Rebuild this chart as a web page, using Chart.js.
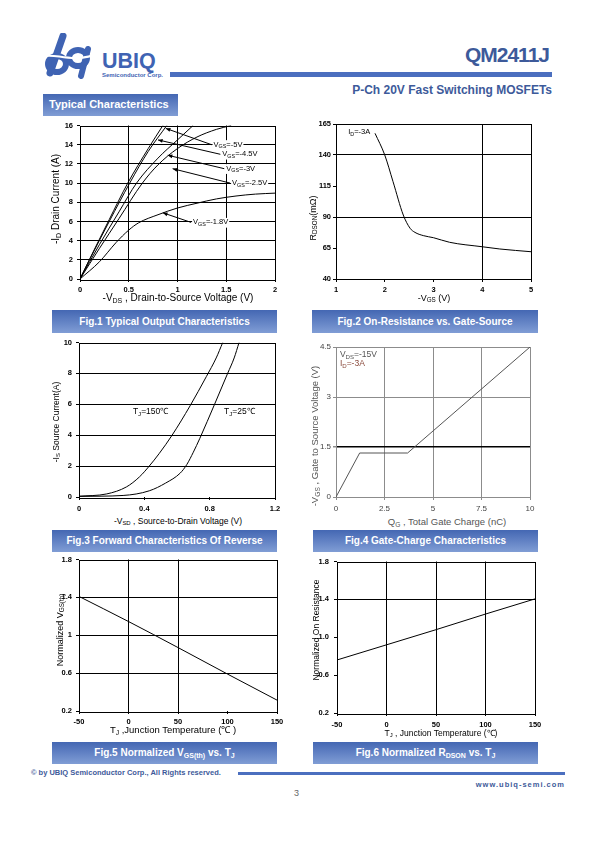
<!DOCTYPE html>
<html>
<head>
<meta charset="utf-8">
<script src="https://cdn.jsdelivr.net/npm/chart.js"></script>
<style>
body { margin: 0; width: 595px; height: 842px; position: relative; background: #fff; overflow: hidden;
  font-family: "Liberation Sans", Arial, sans-serif; }
canvas { position: absolute; }
.t { position: absolute; white-space: nowrap; line-height: 1; }
.xt { position: absolute; white-space: nowrap; line-height: 1; transform: translate(-50%, -50%); }
.yt { position: absolute; white-space: nowrap; line-height: 1; transform: translate(-50%, -50%) rotate(-90deg); }
.cap { position: absolute; height: 22px; line-height: 22px; color: #fff; font-weight: bold; font-size: 10px;
  text-align: center; background: linear-gradient(#4467b3, #809dd5); white-space: nowrap; }
sub { font-size: 70%; vertical-align: -0.25em; line-height: 0; }
.blue { color: #3d5a9a; }
</style>
</head>
<body>

<!-- header -->
<svg class="t" style="left:40px;top:33px" width="62" height="46" viewBox="0 0 62 46">
  <g fill="none" stroke="#3f63b3" stroke-linecap="round">
    <line x1="23" y1="3" x2="10" y2="40" stroke-width="7"/>
    <ellipse cx="17" cy="31" rx="9" ry="8" stroke-width="6"/>
    <ellipse cx="38" cy="25" rx="9" ry="8" stroke-width="6"/>
    <line x1="48" y1="16" x2="41" y2="43" stroke-width="6"/>
  </g>
  <path d="M1 24 C 14 18, 30 32, 60 20" fill="none" stroke="#fff" stroke-width="2"/>
</svg>
<div class="t" style="left:102px;top:51px;font-size:21.5px;font-weight:bold;color:#3f63b3">UBIQ</div>
<div class="t" style="left:102px;top:72px;font-size:6px;font-weight:bold;color:#3f63b3">Semiconductor Corp.</div>
<div class="t" style="left:170px;top:72px;width:382px;height:5px;background:#4b6fbf"></div>
<div class="t blue" style="right:46px;top:44px;font-size:21px;font-weight:bold;letter-spacing:-1px">QM2411J</div>
<div class="t blue" style="right:43px;top:84px;font-size:12px;font-weight:bold">P-Ch 20V Fast Switching MOSFETs</div>
<div class="t" style="left:43px;top:94px;width:135px;height:22px;background:linear-gradient(#4467b3,#809dd5)"></div>
<div class="t" style="left:49px;top:99px;font-size:11px;font-weight:bold;color:#fff">Typical Characteristics</div>

<!-- charts -->
<canvas id="c1"></canvas>
<canvas id="c2"></canvas>
<canvas id="c3"></canvas>
<canvas id="c4"></canvas>
<canvas id="c5"></canvas>
<canvas id="c6"></canvas>

<!-- axis titles -->
<div class="xt" style="left:178px;top:298px;font-size:10px">-V<sub>DS</sub> , Drain-to-Source Voltage (V)</div>
<div class="yt" style="left:56px;top:199px;font-size:10px">-I<sub>D</sub> Drain Current (A)</div>
<div class="xt" style="left:434px;top:298px;font-size:9px">-V<sub>GS</sub> (V)</div>
<div class="yt" style="left:313px;top:218px;font-size:9px">R<sub>DSON</sub>(mΩ)</div>
<div class="xt" style="left:178px;top:521px;font-size:8.5px">-V<sub>SD</sub> , Source-to-Drain Voltage (V)</div>
<div class="yt" style="left:56px;top:422px;font-size:8.5px">-I<sub>S</sub> Source Current(A)</div>
<div class="xt" style="left:447px;top:522px;font-size:9.5px;color:#555">Q<sub>G</sub> , Total Gate Charge (nC)</div>
<div class="yt" style="left:315px;top:436px;font-size:9.5px;color:#555">-V<sub>GS</sub> , Gate to Source Voltage (V)</div>
<div class="xt" style="left:173px;top:730px;font-size:9.5px">T<sub>J</sub> ,Junction Temperature (℃ )</div>
<div class="yt" style="left:60px;top:630px;font-size:9px">Normalized V<sub>GS(th)</sub></div>
<div class="xt" style="left:441px;top:733px;font-size:8.5px">T<sub>J</sub> , Junction Temperature (℃)</div>
<div class="yt" style="left:316px;top:630px;font-size:8.5px">Normalized On Resistance</div>

<!-- captions -->
<div class="cap" style="left:52px;top:310px;width:225px;height:23px;line-height:23px">Fig.1 Typical Output Characteristics</div>
<div class="cap" style="left:312px;top:310px;width:226px;height:23px;line-height:23px">Fig.2 On-Resistance vs. Gate-Source</div>
<div class="cap" style="left:52px;top:530px;width:225px">Fig.3 Forward Characteristics Of Reverse</div>
<div class="cap" style="left:313px;top:530px;width:225px">Fig.4 Gate-Charge Characteristics</div>
<div class="cap" style="left:52px;top:742px;width:225px">Fig.5 Normalized V<sub>GS(th)</sub> vs. T<sub>J</sub></div>
<div class="cap" style="left:313px;top:742px;width:225px">Fig.6 Normalized R<sub>DSON</sub> vs. T<sub>J</sub></div>

<!-- footer -->
<div class="t blue" style="left:31px;top:769px;font-size:7.5px;font-weight:bold">© by UBIQ Semiconductor Corp., All Rights reserved.</div>
<div class="t" style="left:238px;top:772px;width:327px;height:3px;background:#4b6fbf"></div>
<div class="t blue" style="right:30px;top:781px;font-size:7.5px;font-weight:bold;letter-spacing:1px">www.ubiq-semi.com</div>
<div class="t" style="left:294px;top:789px;font-size:9px;color:#666">3</div>

<script>
const FAM = '"Liberation Sans", Arial, sans-serif';

// Fig.1 output characteristics
const fig1XTicks = [0, 0.5, 1, 1.5, 2];
const fig1XLabels = ['0', '0.5', '1', '1.5', '2'];
const fig1YTicks = [0, 2, 4, 6, 8, 10, 12, 14, 16];
const fig1YLabels = ['0', '2', '4', '6', '8', '10', '12', '14', '16'];
const fig1Vds5 = [0, 0.1, 0.3, 0.49, 0.7, 0.85];
const fig1Id5 = [0, 2.1, 6.2, 10, 13.6, 16];
const fig1Vds45 = [0, 0.1, 0.3, 0.51, 0.7, 0.89];
const fig1Id45 = [0, 2.05, 6.0, 10, 13.3, 16];
const fig1Vds3 = [0, 0.2, 0.4, 0.58, 0.8, 1.0, 1.16];
const fig1Id3 = [0, 3.6, 7.0, 10, 12.6, 14.5, 16];
const fig1Vds25 = [0, 0.2, 0.4, 0.64, 0.8, 1.0, 1.2, 1.4, 1.55];
const fig1Id25 = [0, 3.2, 6.3, 10, 11.9, 13.6, 14.8, 15.6, 16];
const fig1Vds18 = [0, 0.2, 0.37, 0.5, 0.6, 0.8, 1.0, 1.2, 1.4, 1.6, 1.8, 2.0];
const fig1Id18 = [0, 1.8, 3.8, 5.1, 5.85, 6.7, 7.4, 7.9, 8.35, 8.65, 8.85, 8.95];
const fig1NoteText = ['=-5V', '=-4.5V', '=-3V', '=-2.5V', '=-1.8V'];
const fig1NoteAt = [[1.37, 14.0], [1.46, 13.0], [1.50, 11.5], [1.56, 10.0], [1.16, 5.9]];
const fig1NoteTip = [[0.88, 15.7], [0.80, 14.5], [0.90, 12.9], [0.95, 11.5], [0.85, 6.9]];

// Fig.2 on-resistance vs gate-source
const fig2XTicks = [1, 2, 3, 4, 5];
const fig2XLabels = ['1', '2', '3', '4', '5'];
const fig2YTicks = [40, 65, 90, 115, 140, 165];
const fig2YLabels = ['40', '65', '90', '115', '140', '165'];
const fig2Vgs = [1.8, 2.0, 2.17, 2.38, 2.52, 2.62, 2.79, 3.0, 3.33, 4.0, 4.36, 5.0];
const fig2Rds = [157.5, 140, 118.5, 91.6, 80.9, 77.6, 75, 73.3, 69.6, 66, 64.2, 62];

// Fig.3 body diode forward
const fig3XTicks = [0, 0.4, 0.8, 1.2];
const fig3XLabels = ['0', '0.4', '0.8', '1.2'];
const fig3YTicks = [0, 2, 4, 6, 8, 10];
const fig3YLabels = ['0', '2', '4', '6', '8', '10'];
const fig3Vsd150 = [0, 0.17, 0.29, 0.37, 0.43, 0.49, 0.57, 0.68, 0.78, 0.84, 0.88];
const fig3Is150 = [0.05, 0.2, 0.65, 1.3, 2.0, 2.8, 4.0, 5.9, 7.8, 9.0, 10];
const fig3Vsd25 = [0, 0.27, 0.43, 0.53, 0.62, 0.66, 0.70, 0.74, 0.83, 0.91, 0.95, 0.98];
const fig3Is25 = [0.04, 0.1, 0.4, 0.9, 1.55, 2.1, 2.9, 3.8, 6.0, 8.0, 9.0, 10];

// Fig.4 gate charge
const fig4XTicks = [0, 2.5, 5, 7.5, 10];
const fig4XLabels = ['0', '2.5', '5', '7.5', '10'];
const fig4YTicks = [0, 1.5, 3, 4.5];
const fig4YLabels = ['0', '1.5', '3', '4.5'];
const fig4Qg = [0, 1.22, 3.69, 10];
const fig4Vgs = [0, 1.32, 1.32, 4.5];

// Fig.5 / Fig.6 vs temperature
const tempTicks = [-50, 0, 50, 100, 150];
const tempLabels = ['-50', '0', '50', '100', '150'];
const normTicks = [0.2, 0.6, 1.0, 1.4, 1.8];
const fig5YLabels = ['0.2', '0.6', '1', '1.4', '1.8'];
const fig6YLabels = ['0.2', '0.6', '1.0', '1.4', '1.8'];
const fig5Temp = [-50, 0, 50, 100, 150];
const fig5Vth = [1.41, 1.145, 0.87, 0.59, 0.315];
const fig6Temp = [-50, 0, 50, 100, 150];
const fig6Rds = [0.76, 0.92, 1.08, 1.245, 1.405];

// draws text made of [text, isSub] parts, returns width
function drawParts(ctx, parts, x, y, size, paint) {
  let cx = x;
  ctx.textBaseline = 'middle';
  ctx.textAlign = 'left';
  parts.forEach(p => {
    const sub = p[1];
    ctx.font = (sub ? size * 0.72 : size) + 'px ' + FAM;
    if (paint) ctx.fillText(p[0], cx, sub ? y + size * 0.28 : y);
    cx += ctx.measureText(p[0]).width;
  });
  return cx - x;
}

const framePlugin = {
  id: 'frame',
  beforeDatasetsDraw(chart, args, opts) {
    const a = chart.chartArea, ctx = chart.ctx;
    ctx.save();
    ctx.strokeStyle = opts.color || '#000';
    ctx.lineWidth = 1;
    ctx.strokeRect(Math.round(a.left) + 0.5, Math.round(a.top) + 0.5,
      Math.round(a.right - a.left), Math.round(a.bottom - a.top));
    ctx.restore();
  }
};

const notesPlugin = {
  id: 'notes',
  afterDatasetsDraw(chart, args, opts) {
    const items = opts.items || [];
    const ctx = chart.ctx, xs = chart.scales.x, ys = chart.scales.y;
    const size = opts.size || 8;
    items.forEach(it => {
      const px = xs.getPixelForValue(it.at[0]), py = ys.getPixelForValue(it.at[1]);
      ctx.save();
      if (it.tip) {
        const tx = xs.getPixelForValue(it.tip[0]), ty = ys.getPixelForValue(it.tip[1]);
        ctx.strokeStyle = '#000';
        ctx.fillStyle = '#000';
        ctx.lineWidth = 1;
        ctx.beginPath();
        ctx.moveTo(px - 2, py);
        ctx.lineTo(tx, ty);
        ctx.stroke();
        const ang = Math.atan2(ty - py, tx - (px - 2));
        ctx.beginPath();
        ctx.moveTo(tx, ty);
        ctx.lineTo(tx - 5 * Math.cos(ang - 0.4), ty - 5 * Math.sin(ang - 0.4));
        ctx.lineTo(tx - 5 * Math.cos(ang + 0.4), ty - 5 * Math.sin(ang + 0.4));
        ctx.closePath();
        ctx.fill();
      }
      const w = drawParts(ctx, it.parts, px, py, size, false);
      if (opts.bg) {
        ctx.fillStyle = opts.bg;
        ctx.fillRect(px - 1, py - size * 0.6, w + 2, size * 1.3);
      }
      ctx.fillStyle = it.color || opts.color || '#000';
      drawParts(ctx, it.parts, px, py, size, true);
      ctx.restore();
    });
  }
};

function axis(ticks, labels, gridVals, o) {
  return {
    type: 'linear',
    min: ticks[0],
    max: ticks[ticks.length - 1],
    afterBuildTicks: s => { s.ticks = ticks.map(v => ({ value: v })); },
    afterFit: s => { if (o.dir === 'x') s.height = o.fit; else s.width = o.fit; },
    ticks: {
      callback: (v, i) => labels[i],
      font: { family: FAM, size: o.fontSize, weight: o.bold ? 'bold' : 'normal' },
      color: o.tickText,
      padding: o.pad,
      autoSkip: false,
      maxRotation: 0
    },
    grid: {
      color: c => (c.tick && gridVals.includes(c.tick.value)) ? o.gridColor(c.tick.value) : 'rgba(0,0,0,0)',
      lineWidth: c => (c.tick && o.gridWidth) ? o.gridWidth(c.tick.value) : 1,
      tickColor: o.tickColor,
      tickLength: 3,
      drawTicks: true
    },
    border: { display: false }
  };
}

// area = [left, top, right, bottom] of the plot in page pixels
function makeChart(id, area, cfg) {
  const yw = 30, xh = 18, pt = 8, pr = 14;
  const cv = document.getElementById(id);
  const W = area[2] - area[0] + yw + pr, H = area[3] - area[1] + pt + xh;
  cv.width = W; cv.height = H;
  cv.style.width = W + 'px'; cv.style.height = H + 'px';
  cv.style.left = (area[0] - yw) + 'px'; cv.style.top = (area[1] - pt) + 'px';
  const st = {
    fontSize: cfg.fontSize || 7.5, bold: cfg.bold !== false, tickText: cfg.tickText || '#000',
    tickColor: cfg.frame || '#000', gridColor: cfg.gridColor || (() => '#000'), gridWidth: cfg.gridWidth
  };
  return new Chart(cv, {
    type: 'scatter',
    data: {
      datasets: cfg.series.map(s => ({
        data: s.x.map((v, i) => ({ x: v, y: s.y[i] })),
        showLine: true,
        borderColor: cfg.line || '#000',
        borderWidth: 1,
        pointRadius: 0,
        cubicInterpolationMode: cfg.straight ? 'default' : 'monotone',
        tension: 0
      }))
    },
    options: {
      responsive: false,
      animation: false,
      events: [],
      layout: { padding: { left: 0, top: pt, right: pr, bottom: 0 } },
      plugins: {
        legend: { display: false },
        tooltip: { enabled: false },
        frame: { color: cfg.frame || '#000' },
        notes: cfg.notes || {}
      },
      scales: {
        x: axis(cfg.xTicks, cfg.xLabels, cfg.xGrid, Object.assign({ dir: 'x', fit: xh, pad: cfg.xPad }, st)),
        y: axis(cfg.yTicks, cfg.yLabels, cfg.yGrid, Object.assign({ dir: 'y', fit: yw, pad: cfg.yPad }, st))
      }
    },
    plugins: [framePlugin, notesPlugin]
  });
}

makeChart('c1', [80, 125, 275, 279], {
  xTicks: fig1XTicks, xLabels: fig1XLabels, yTicks: fig1YTicks, yLabels: fig1YLabels,
  xGrid: [0.5, 1, 1.5], yGrid: [2, 4, 6, 8, 10, 12, 14], xPad: 3, yPad: 4,
  series: [
    { x: fig1Vds5, y: fig1Id5 }, { x: fig1Vds45, y: fig1Id45 }, { x: fig1Vds3, y: fig1Id3 },
    { x: fig1Vds25, y: fig1Id25 }, { x: fig1Vds18, y: fig1Id18 }
  ],
  notes: {
    size: 7.5, bg: '#fff',
    items: fig1NoteText.map((t, i) => ({ parts: [['V'], ['GS', 1], [t]], at: fig1NoteAt[i], tip: fig1NoteTip[i] }))
  }
});

makeChart('c2', [336, 124, 531, 279], {
  xTicks: fig2XTicks, xLabels: fig2XLabels, yTicks: fig2YTicks, yLabels: fig2YLabels,
  xGrid: [4], yGrid: [90, 140], xPad: 3, yPad: 2,
  series: [{ x: fig2Vgs, y: fig2Rds }],
  notes: { size: 7.5, items: [{ parts: [['I'], ['D', 1], ['=-3A']], at: [1.25, 158.5] }] }
});

makeChart('c3', [79, 342, 275, 497], {
  xTicks: fig3XTicks, xLabels: fig3XLabels, yTicks: fig3YTicks, yLabels: fig3YLabels,
  xGrid: [], yGrid: [2, 4, 6, 8], xPad: 4, yPad: 4,
  series: [{ x: fig3Vsd150, y: fig3Is150 }, { x: fig3Vsd25, y: fig3Is25 }],
  notes: {
    size: 8.5,
    items: [
      { parts: [['T'], ['J', 1], ['=150℃']], at: [0.33, 5.5] },
      { parts: [['T'], ['J', 1], ['=25℃']], at: [0.888, 5.5] }
    ]
  }
});

makeChart('c4', [336, 347, 530, 497], {
  xTicks: fig4XTicks, xLabels: fig4XLabels, yTicks: fig4YTicks, yLabels: fig4YLabels,
  xGrid: [2.5, 5, 7.5], yGrid: [1.5, 3], xPad: 4, yPad: 2,
  fontSize: 8, bold: false, tickText: '#444', frame: '#8c8c8c', line: '#555', straight: true,
  gridColor: v => v === 1.5 ? '#000' : '#8c8c8c',
  gridWidth: v => v === 1.5 ? 1.5 : 1,
  series: [{ x: fig4Qg, y: fig4Vgs }],
  notes: {
    size: 8.5,
    items: [
      { parts: [['V'], ['DS', 1], ['=-15V']], at: [0.2, 4.26], color: '#555' },
      { parts: [['I'], ['D', 1], ['=-3A']], at: [0.2, 4.0], color: '#8a4a3c' }
    ]
  }
});

makeChart('c5', [79, 559, 277, 711], {
  xTicks: tempTicks, xLabels: tempLabels, yTicks: normTicks, yLabels: fig5YLabels,
  xGrid: [0, 50], yGrid: [0.6, 1.0, 1.4], xPad: 3, yPad: 4,
  series: [{ x: fig5Temp, y: fig5Vth }]
});

makeChart('c6', [337, 560, 535, 713], {
  xTicks: tempTicks, xLabels: tempLabels, yTicks: normTicks, yLabels: fig6YLabels,
  xGrid: [0, 50, 100], yGrid: [1.4], xPad: 4, yPad: 5,
  series: [{ x: fig6Temp, y: fig6Rds }]
});
</script>
</body>
</html>
